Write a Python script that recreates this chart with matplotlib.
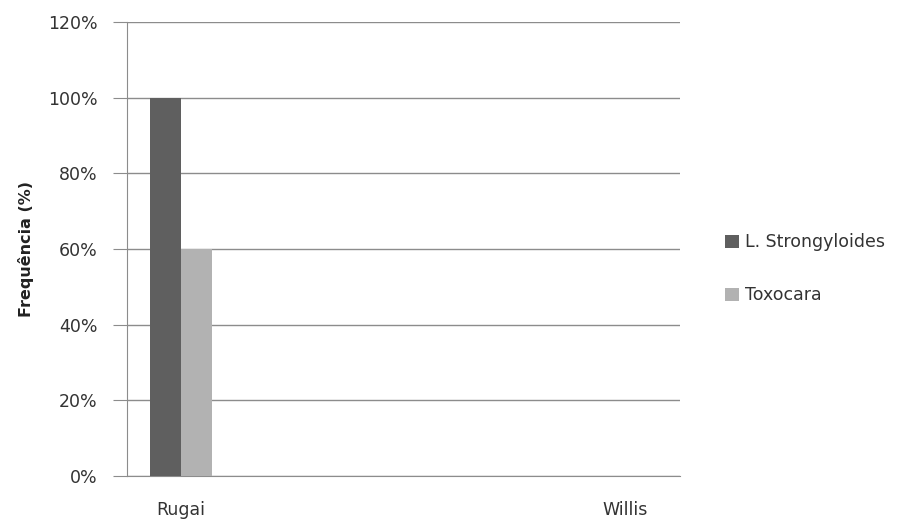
import numpy as np
import matplotlib.pyplot as plt

categories = ["Rugai", "Willis"]
series_names = ["L. Strongyloides", "Toxocara"]
strongyloides = [100, 0]
toxocara = [60, 0]
yticks = [0, 20, 40, 60, 80, 100, 120]

plt.rcParams['font.family'] = ['DejaVu Sans']

fig = plt.figure(figsize=(9.15, 5.22), dpi=100)
ax = fig.add_axes([0.1388, 0.0881, 0.6045, 0.8698])

x = np.arange(len(categories))
w = 0.07
b1 = ax.bar(x - w / 2, strongyloides, w, color='#5f5f5f', label=series_names[0], zorder=3)
b2 = ax.bar(x + w / 2, toxocara, w, color='#b2b2b2', label=series_names[1], zorder=3)

ax.set_xlim(-0.122, 1.124)
ax.set_ylim(0, 120)
ax.set_yticks(yticks)
ax.set_yticklabels(["{}%".format(v) for v in yticks])
ax.set_xticks(x)
ax.set_xticklabels(categories)
ax.grid(axis='y', color='#8c8c8c', linewidth=1, zorder=0)
ax.tick_params(axis='y', length=10, color='#8c8c8c', labelsize=12.5, labelcolor='#333333', pad=11)
ax.tick_params(axis='x', length=0, labelsize=12.5, labelcolor='#333333', pad=18)
for s in ['top', 'right']:
	ax.spines[s].set_visible(False)
ax.spines['left'].set_color('#8c8c8c')
ax.spines['bottom'].set_color('#8c8c8c')
ax.set_ylabel("Frequência (%)", fontsize=11.5, fontweight='bold', labelpad=10, color='#222222')

leg = fig.legend(handles=[b1, b2], loc='center left', bbox_to_anchor=(0.775, 0.485), frameon=False,
	fontsize=12.5, handlelength=0.8, handleheight=0.8, handletextpad=0.35, labelspacing=2.0)
for t in leg.get_texts():
	t.set_color('#333333')

fig.savefig("out.png", dpi=100)
